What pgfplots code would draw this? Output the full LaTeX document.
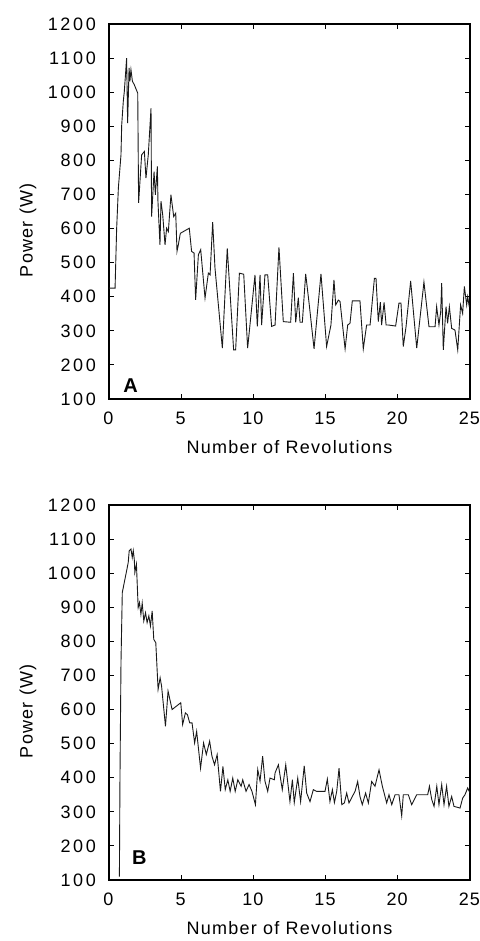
\documentclass[border=0pt]{standalone}
\usepackage{fontspec}
\setmainfont{Liberation Sans}[LetterSpace=7]
\newfontfamily\tickfont{Liberation Sans}[LetterSpace=15]
\newfontfamily\xtickfont{Liberation Sans}[LetterSpace=6]
\usepackage{pgfplots}
\pgfplotsset{compat=1.18}
\pgfplotsset{myax/.style={
  scale only axis, width=180.5pt, height=187.5pt,
  xmin=0, xmax=25, ymin=100, ymax=1200,
  xtick={0,5,...,25}, ytick={100,200,...,1200},
  tick align=inside, major tick length=2.5pt,
  axis line style={line width=0.65pt},
  every tick/.style={black, line width=0.5pt},
  /pgf/number format/assume math mode=true,
  /pgf/number format/1000 sep={},
  yticklabel style={font=\tickfont\fontsize{9}{10}\selectfont, anchor=east, xshift=-3pt},
  xticklabel style={font=\xtickfont\fontsize{9}{10}\selectfont, anchor=center, yshift=-9.5pt, xshift=-0.3pt},
  label style={font=\fontsize{9}{10}\selectfont},
  xlabel={Number of Revolutions}, ylabel={Power (W)},
  xlabel style={at={(axis description cs:0.5,-0.128)}, anchor=center},
  ylabel style={at={(axis description cs:-0.2244,0.45)}, anchor=center},
}}
\begin{document}
\begin{tikzpicture}
\path[use as bounding box] (0pt,0pt) rectangle (240pt,470.5pt);
\begin{axis}[myax, at={(54.5pt,271pt)}, anchor=south west]
\addplot[black!90, line width=0.45pt, mark=none] coordinates {
(0,425) (0.42,425) (0.53,600) (0.65,720) (0.83,816) (0.88,904) (0.99,973) (1.06,1002) (1.15,1056) (1.22,1100) (1.29,909) (1.39,1071) (1.45,1032) (1.52,1066) (1.62,1032) (1.75,1022) (1.99,997) (2.05,675) (2.26,816) (2.45,826) (2.56,748) (2.72,816) (2.91,953) (2.95,635) (3.12,767) (3.21,699) (3.35,782) (3.39,680) (3.53,552) (3.60,680) (3.72,640) (3.88,552) (3.99,601) (4.11,591) (4.29,699) (4.48,635) (4.62,645) (4.71,533) (4.80,552) (4.94,586) (5.56,601) (5.72,533) (5.89,528) (6.00,391) (6.19,523) (6.35,538) (6.65,396) (6.88,469) (7.0,464) (7.18,619) (7.34,484) (7.85,249) (8.19,542) (8.63,244) (8.77,244) (9.03,469) (9.33,466) (9.60,249) (10.11,464) (10.27,313) (10.46,464) (10.57,317) (10.80,464) (10.99,464) (11.26,313) (11.50,317) (11.77,545) (12.07,327) (12.58,325) (12.77,469) (12.93,325) (13.11,397) (13.23,325) (13.39,325) (13.62,467) (13.87,376) (14.20,247) (14.68,467) (15.07,254) (15.37,317) (15.58,449) (15.70,376) (15.88,390) (16.0,386) (16.35,247) (16.53,317) (16.69,322) (16.85,388) (17.38,388) (17.61,247) (17.84,317) (18.08,317) (18.38,454) (18.49,454) (18.65,327) (18.79,384) (18.88,317) (19.05,383) (19.19,317) (19.35,317) (19.85,314) (20.08,381) (20.22,381) (20.38,254) (20.57,312) (20.89,446) (21.31,249) (21.81,443) (22.16,312) (22.58,312) (22.69,371) (22.85,317) (22.97,356) (23.04,440) (23.15,244) (23.34,371) (23.45,322) (23.57,371) (23.73,307) (23.96,302) (24.15,244) (24.35,376) (24.49,351) (24.61,430) (24.77,376) (24.84,400) (24.95,370)
};
\node[font=\bfseries\fontsize{10}{10}\selectfont] at (axis cs:1.5,140) {A};
\end{axis}
\begin{axis}[myax, at={(54.5pt,30.5pt)}, anchor=south west]
\addplot[black!90, line width=0.45pt, mark=none] coordinates {
(0.72,110) (0.76,400) (0.83,737) (0.92,943) (1.06,973) (1.22,1007) (1.33,1031) (1.40,1066) (1.52,1071) (1.61,1046) (1.68,1066) (1.75,1041) (1.79,1002) (1.90,1026) (2.02,899) (2.11,914) (2.21,879) (2.30,912) (2.41,860) (2.53,884) (2.64,855) (2.76,875) (2.87,845) (2.99,889) (3.10,806) (3.24,796) (3.40,659) (3.54,693) (3.64,669) (3.91,551) (4.09,654) (4.37,600) (4.97,620) (5.10,556) (5.29,590) (5.43,585) (5.59,561) (5.75,561) (5.93,502) (6.07,536) (6.34,428) (6.55,502) (6.74,468) (6.97,507) (7.13,463) (7.31,438) (7.49,468) (7.72,360) (7.89,433) (8.05,365) (8.23,394) (8.39,360) (8.57,399) (8.74,360) (8.92,394) (9.15,375) (9.26,394) (9.49,360) (9.70,380) (9.90,360) (10.14,321) (10.30,424) (10.46,390) (10.64,463) (10.80,390) (10.99,360) (11.15,399) (11.45,394) (11.5,414) (11.73,438) (12.0,365) (12.24,438) (12.53,330) (12.70,394) (12.83,327) (13.07,399) (13.27,330) (13.52,435) (13.69,355) (13.92,330) (14.15,365) (14.38,360) (14.96,360) (15.12,396) (15.30,330) (15.47,365) (15.61,327) (15.77,360) (15.93,428) (16.12,321) (16.30,326) (16.46,355) (16.62,326) (16.85,345) (17.04,360) (17.22,389) (17.38,345) (17.54,321) (17.77,355) (17.96,326) (18.19,389) (18.42,375) (18.70,423) (18.93,375) (19.23,326) (19.39,350) (19.58,321) (19.81,350) (20.08,350) (20.27,288) (20.38,350) (20.73,350) (20.96,321) (21.31,350) (22.07,350) (22.19,375) (22.35,336) (22.51,316) (22.70,375) (22.85,321) (23.04,380) (23.20,321) (23.38,375) (23.54,316) (23.73,345) (23.89,316) (24.31,311) (24.49,340) (24.65,350) (24.84,370) (25.0,355)
};
\node[font=\bfseries\fontsize{10}{10}\selectfont] at (axis cs:2.1,165) {B};
\end{axis}
\end{tikzpicture}
\end{document}
